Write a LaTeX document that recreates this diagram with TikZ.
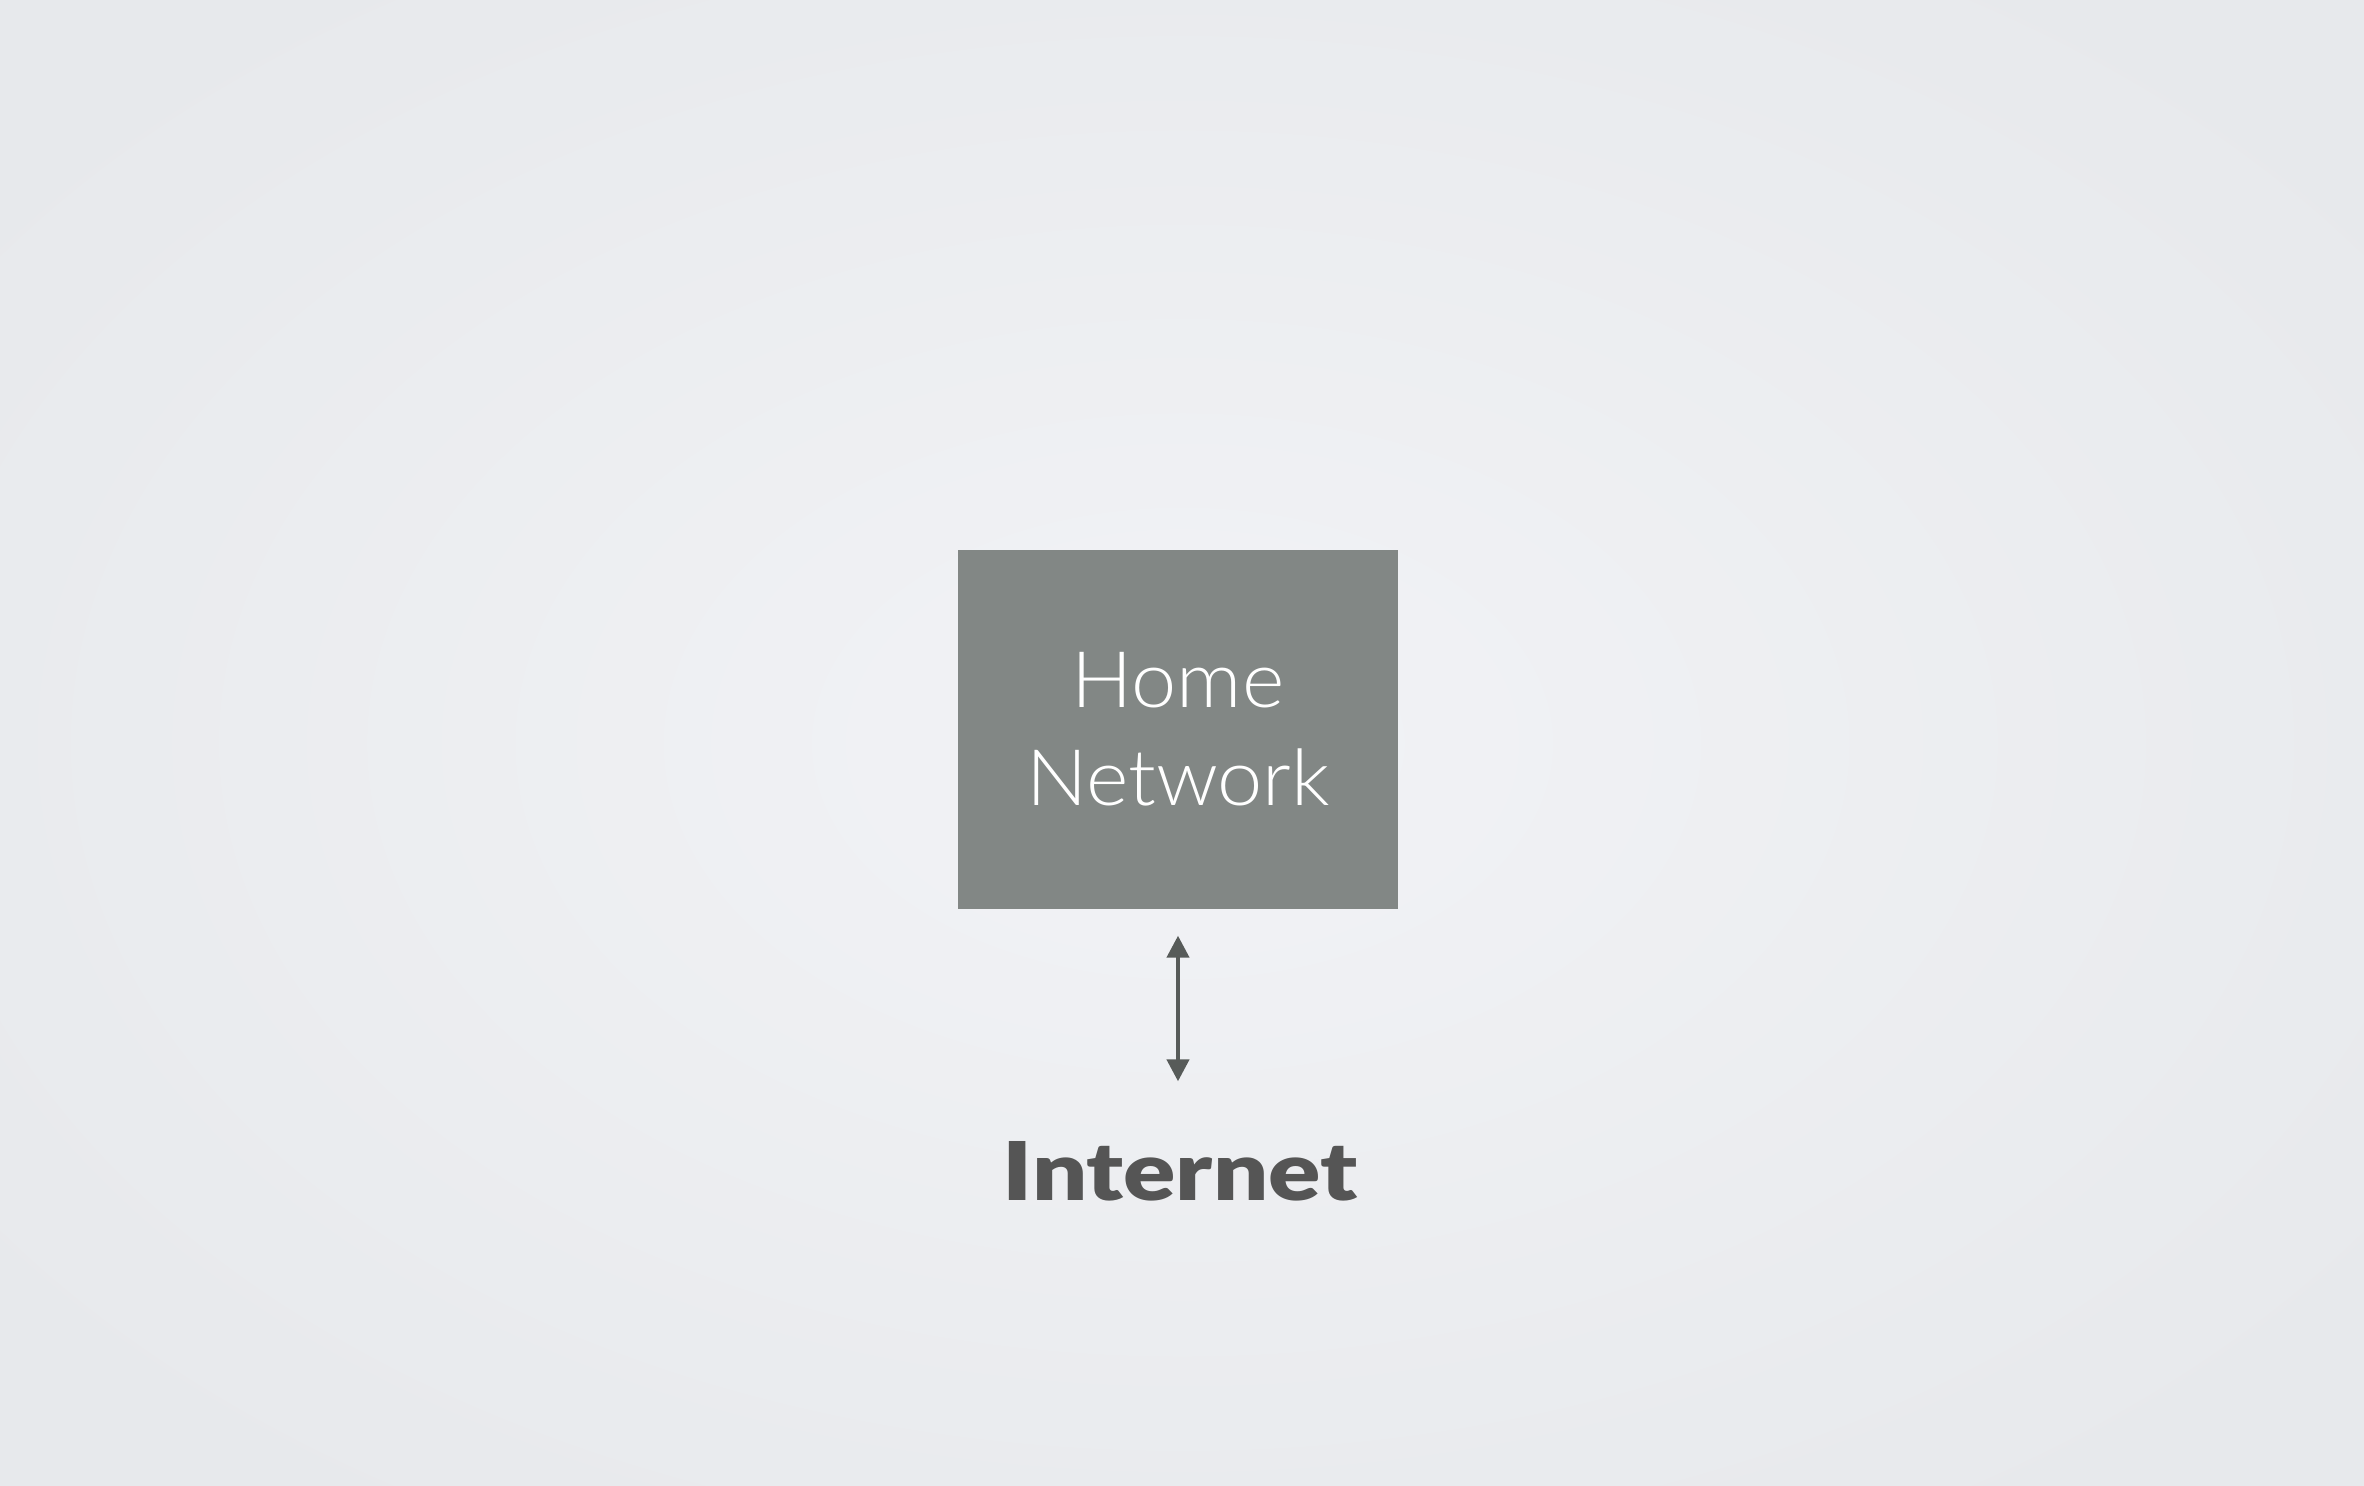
\documentclass[tikz,border=0pt]{standalone}
\usepackage{fontspec}
\setmainfont{Lato}
\newfontfamily\lightfont{Lato Light}[FakeStretch=1.04]
\newfontfamily\blackfont{Lato Black}[FakeStretch=1.2]
\usetikzlibrary{arrows.meta}
\definecolor{bgin}{HTML}{F2F3F6}
\definecolor{bgout}{HTML}{E7E9EC}
\definecolor{boxgray}{HTML}{828785}
\definecolor{arrowgray}{HTML}{575B59}
\definecolor{textgray}{HTML}{555555}
\tikzset{
  netbox/.style={fill=boxgray, draw=none, minimum width=132pt, minimum height=107.7pt,
    inner sep=0pt, text=white, align=center,
    font=\lightfont\fontsize{23.4pt}{29.4pt}\selectfont},
  biglabel/.style={inner sep=0pt, text=textgray, font=\blackfont\fontsize{24.3pt}{29pt}\selectfont},
  link/.style={arrowgray, line width=1.3pt, {Triangle[width=6.6pt,length=6.6pt]}-{Triangle[width=6.6pt,length=6.6pt]}}
}
\begin{document}
\begin{tikzpicture}[x=0.3pt,y=-0.3pt]
  \useasboundingbox (0,0) rectangle (2364,1486);
  \shade[inner color=bgin, outer color=bgout] (-300,-200) rectangle (2664,1686);
  \node[netbox] (box) at (1178,729.5) {Home\\Network};
  \node[biglabel, anchor=base] (inet) at (1180,1200) {Internet};
  \draw[link, shorten <=7.8pt, shorten >=17.7pt] (box.south) -- (box.south |- inet.north);
\end{tikzpicture}
\end{document}
